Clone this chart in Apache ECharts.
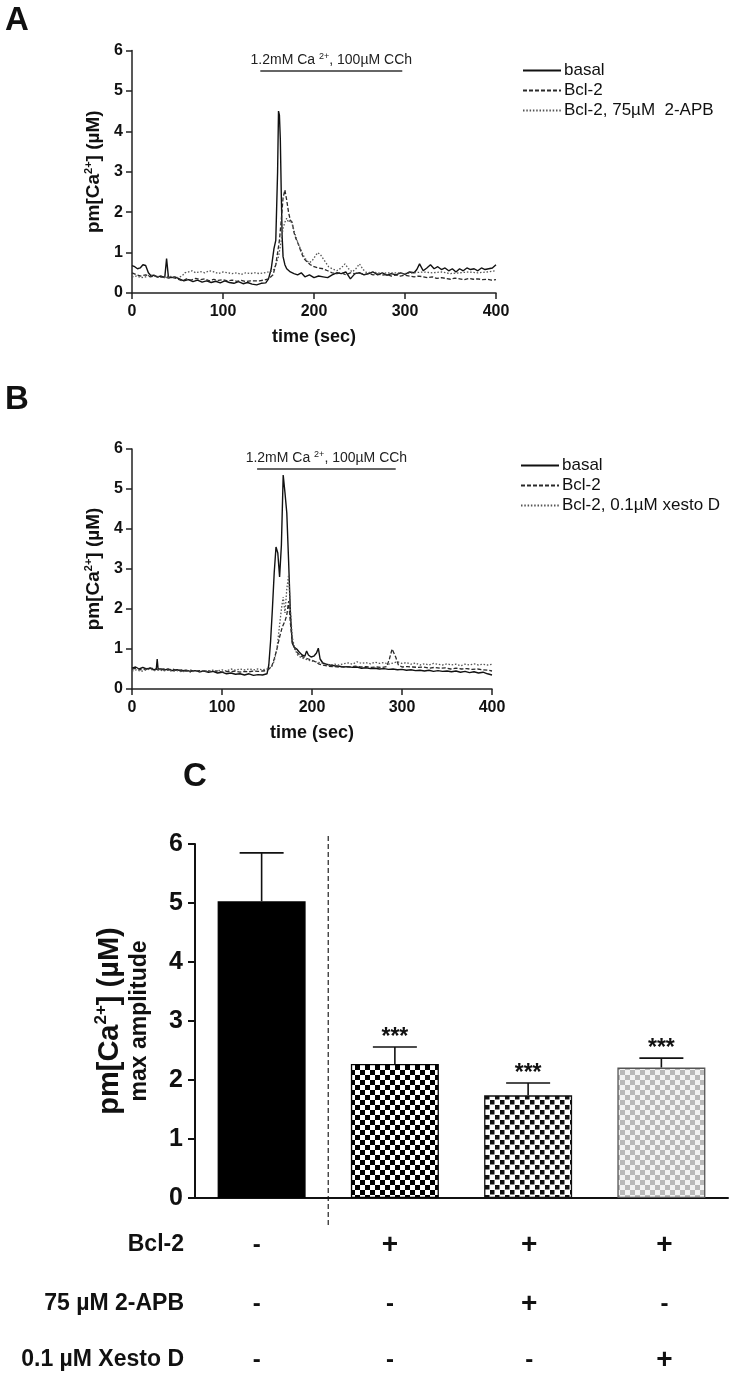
<!DOCTYPE html>
<html><head><meta charset="utf-8"><title>pm[Ca2+] traces and max amplitude</title>
<script src="https://cdn.jsdelivr.net/npm/echarts@6.0.0/dist/echarts.min.js"></script>
<style>html,body{margin:0;padding:0;background:#fff;}#chart{width:732px;height:1374px;}</style>
</head><body><div id="chart"></div>
<script>
// ---------------- DATA ----------------
// Panel A traces: [time (sec), pm[Ca2+] (µM)]
const traceA_basal = [[0,0.68],[3,0.65],[6,0.6],[9,0.62],[12,0.7],[15,0.68],[18,0.5],[21,0.42],[24,0.44],[28,0.4],[32,0.42],[36,0.38],[38,0.85],[40,0.4],[43,0.38],[47,0.4],[52,0.35],[57,0.3],[62,0.33],[67,0.28],[72,0.32],[77,0.27],[82,0.3],[87,0.26],[92,0.29],[97,0.25],[102,0.3],[107,0.26],[112,0.24],[117,0.28],[122,0.23],[127,0.26],[132,0.22],[137,0.2],[142,0.24],[147,0.25],[150,0.35],[153,0.6],[156,1.1],[158,1.3],[160,3.0],[161,4.5],[162,4.4],[163,3.8],[164,2.5],[165,1.4],[166,0.9],[168,0.7],[170,0.6],[174,0.52],[178,0.48],[182,0.45],[186,0.5],[190,0.4],[195,0.45],[200,0.38],[205,0.42],[210,0.4],[215,0.38],[220,0.45],[225,0.5],[230,0.48],[235,0.52],[240,0.35],[245,0.48],[250,0.5],[255,0.45],[260,0.48],[265,0.52],[270,0.45],[275,0.5],[280,0.44],[285,0.48],[290,0.45],[295,0.5],[300,0.46],[305,0.52],[310,0.5],[313,0.58],[316,0.72],[320,0.55],[324,0.62],[328,0.7],[332,0.6],[336,0.65],[340,0.58],[344,0.62],[348,0.55],[352,0.6],[356,0.52],[360,0.6],[364,0.55],[368,0.62],[372,0.58],[376,0.6],[380,0.55],[384,0.62],[388,0.58],[392,0.6],[396,0.62],[400,0.7]];
const traceA_bcl2 = [[0,0.5],[5,0.45],[10,0.42],[15,0.45],[20,0.4],[25,0.42],[30,0.38],[35,0.4],[40,0.37],[45,0.38],[50,0.35],[55,0.3],[60,0.35],[65,0.32],[70,0.36],[75,0.33],[80,0.35],[85,0.3],[90,0.34],[95,0.31],[100,0.33],[105,0.3],[110,0.32],[115,0.29],[120,0.31],[125,0.28],[130,0.3],[135,0.3],[140,0.3],[145,0.32],[150,0.35],[155,0.45],[158,0.7],[160,1.0],[162,1.3],[164,1.8],[166,2.35],[168,2.55],[170,2.3],[172,2.0],[174,1.8],[176,1.75],[178,1.5],[180,1.35],[183,1.2],[186,1.0],[189,0.85],[192,0.78],[196,0.7],[200,0.65],[205,0.62],[210,0.6],[215,0.55],[220,0.5],[225,0.48],[230,0.5],[235,0.45],[240,0.5],[245,0.48],[250,0.5],[255,0.46],[260,0.48],[265,0.45],[270,0.47],[275,0.44],[280,0.46],[285,0.42],[290,0.45],[295,0.42],[300,0.44],[305,0.42],[310,0.4],[315,0.42],[320,0.4],[325,0.38],[330,0.4],[335,0.36],[340,0.38],[345,0.36],[350,0.34],[355,0.37],[360,0.35],[365,0.33],[370,0.36],[375,0.34],[380,0.35],[385,0.33],[390,0.34],[395,0.32],[400,0.33]];
const traceA_apb = [[0,0.4],[5,0.42],[10,0.38],[15,0.4],[20,0.45],[25,0.42],[30,0.4],[35,0.38],[40,0.42],[45,0.4],[50,0.38],[55,0.42],[58,0.5],[62,0.52],[66,0.55],[70,0.5],[75,0.53],[80,0.5],[85,0.55],[90,0.52],[95,0.48],[100,0.52],[105,0.5],[110,0.48],[115,0.5],[120,0.46],[125,0.5],[130,0.48],[135,0.5],[140,0.48],[145,0.5],[150,0.52],[155,0.55],[158,0.7],[161,0.9],[164,1.3],[166,1.6],[168,1.75],[170,1.85],[172,1.75],[174,1.8],[176,1.7],[178,1.55],[180,1.4],[183,1.2],[186,1.05],[189,0.9],[192,0.8],[195,0.75],[198,0.8],[201,0.9],[204,1.0],[207,0.95],[210,0.85],[213,0.75],[216,0.65],[220,0.6],[225,0.55],[230,0.62],[234,0.72],[238,0.6],[242,0.52],[246,0.6],[250,0.72],[254,0.58],[258,0.5],[265,0.52],[270,0.5],[275,0.48],[280,0.5],[290,0.5],[300,0.48],[310,0.5],[320,0.52],[330,0.5],[340,0.52],[350,0.48],[360,0.5],[370,0.52],[380,0.5],[390,0.52],[400,0.55]];
// Panel B traces
const traceB_basal = [[0,0.52],[4,0.55],[8,0.5],[12,0.54],[16,0.5],[20,0.52],[24,0.48],[27,0.5],[28,0.75],[29,0.5],[32,0.5],[36,0.47],[40,0.5],[45,0.46],[50,0.48],[55,0.45],[60,0.47],[65,0.44],[70,0.46],[75,0.43],[80,0.45],[85,0.42],[90,0.44],[95,0.4],[100,0.42],[105,0.38],[110,0.4],[115,0.37],[120,0.38],[125,0.35],[130,0.38],[135,0.34],[140,0.36],[145,0.35],[150,0.38],[152,0.6],[154,1.2],[156,2.0],[158,2.9],[160,3.55],[162,3.4],[164,2.8],[166,3.6],[168,5.35],[170,4.9],[172,4.4],[174,3.2],[176,1.9],[178,1.15],[180,1.05],[183,1.0],[186,0.92],[189,0.85],[192,0.82],[194,0.95],[196,0.85],[199,0.8],[202,0.82],[205,0.9],[207,1.02],[209,0.75],[212,0.65],[216,0.62],[220,0.6],[225,0.58],[230,0.57],[235,0.55],[240,0.56],[245,0.54],[250,0.55],[255,0.52],[260,0.53],[265,0.51],[270,0.52],[275,0.5],[280,0.51],[285,0.49],[290,0.5],[295,0.48],[300,0.49],[305,0.47],[310,0.48],[315,0.46],[320,0.47],[325,0.45],[330,0.47],[335,0.44],[340,0.46],[345,0.44],[350,0.45],[355,0.43],[360,0.45],[365,0.42],[370,0.44],[375,0.41],[380,0.43],[385,0.4],[390,0.42],[395,0.38],[400,0.35]];
const traceB_bcl2 = [[0,0.5],[5,0.52],[10,0.48],[15,0.5],[20,0.53],[25,0.5],[30,0.48],[35,0.5],[40,0.47],[45,0.5],[50,0.46],[55,0.48],[60,0.45],[65,0.47],[70,0.44],[75,0.46],[80,0.44],[85,0.45],[90,0.43],[95,0.45],[100,0.42],[105,0.44],[110,0.43],[115,0.45],[120,0.42],[125,0.44],[130,0.43],[135,0.45],[140,0.44],[145,0.45],[150,0.46],[155,0.55],[158,0.75],[161,1.0],[164,1.3],[167,1.55],[170,1.7],[172,1.85],[174,2.2],[176,1.65],[178,1.2],[181,1.0],[184,0.9],[188,0.82],[192,0.78],[196,0.75],[200,0.72],[204,0.68],[208,0.62],[212,0.6],[218,0.57],[224,0.56],[230,0.55],[236,0.56],[242,0.55],[248,0.57],[254,0.55],[260,0.56],[266,0.54],[272,0.55],[278,0.54],[283,0.56],[286,0.75],[289,1.0],[291,1.05],[293,0.8],[296,0.6],[300,0.55],[306,0.56],[312,0.55],[318,0.54],[324,0.55],[330,0.52],[336,0.54],[342,0.52],[348,0.53],[354,0.5],[360,0.52],[366,0.5],[372,0.51],[378,0.49],[384,0.5],[390,0.48],[396,0.47],[400,0.45]];
const traceB_xesto = [[0,0.45],[5,0.48],[10,0.44],[15,0.47],[20,0.5],[25,0.46],[30,0.48],[35,0.45],[40,0.47],[45,0.44],[50,0.46],[55,0.43],[60,0.45],[65,0.42],[70,0.45],[75,0.43],[80,0.46],[85,0.44],[90,0.47],[95,0.45],[100,0.48],[105,0.45],[110,0.5],[115,0.47],[120,0.5],[125,0.48],[130,0.5],[135,0.48],[140,0.5],[145,0.48],[150,0.5],[155,0.55],[158,0.7],[161,1.0],[164,1.6],[166,2.0],[168,2.3],[170,1.9],[172,2.5],[174,2.85],[176,2.0],[178,1.3],[181,1.0],[184,0.85],[188,0.78],[192,0.75],[196,0.72],[200,0.7],[205,0.68],[210,0.65],[215,0.62],[220,0.6],[225,0.62],[230,0.6],[235,0.63],[240,0.65],[245,0.62],[250,0.68],[255,0.64],[260,0.66],[265,0.63],[270,0.67],[275,0.64],[280,0.66],[285,0.62],[290,0.65],[295,0.68],[300,0.64],[305,0.66],[310,0.62],[315,0.65],[320,0.6],[325,0.63],[330,0.6],[335,0.64],[340,0.62],[345,0.6],[350,0.63],[355,0.6],[360,0.62],[365,0.58],[370,0.62],[375,0.6],[380,0.63],[385,0.6],[390,0.62],[395,0.6],[400,0.62]];
const seriesNamesA = ['basal', 'Bcl-2', 'Bcl-2, 75µM  2-APB'];
const seriesNamesB = ['basal', 'Bcl-2', 'Bcl-2, 0.1µM xesto D'];
const timeRange = [0, 400];
const timeStep = 100;
const concRange = [0, 6];
const treatmentA = [141, 297];
const treatmentB = [139, 293];
const treatmentLevel = 5.5;
// Panel C bars
const barCategories = ['basal', 'Bcl-2', 'Bcl-2 + 2-APB', 'Bcl-2 + Xesto D'];
const barMeans = [5.03, 2.27, 1.74, 2.21];
const barErrors = [0.82, 0.29, 0.21, 0.16];
const barSignificance = ['', '***', '***', '***'];
const tableRowLabels = ['Bcl-2', '75 µM 2-APB', '0.1 µM Xesto D'];
const tableSigns = [['-', '+', '+', '+'], ['-', '-', '+', '-'], ['-', '-', '-', '+']];

// ---------------- STYLE ----------------
const FF = '"Liberation Sans", Arial, Helvetica, sans-serif';
const FN = '"Liberation Sans Narrow", "Arial Narrow", "Liberation Sans", sans-serif';
const lineStyles = [
  { color: '#111', width: 1.4, type: 'solid' },
  { color: '#2a2a2a', width: 1.3, type: [4, 2] },
  { color: '#555', width: 1.3, type: [1.5, 1.8] }
];
const signOffsets = [-5, -5, 1, 3];

function makePattern(kind) {
  const c = document.createElement('canvas');
  c.width = 10; c.height = 10;
  const g = c.getContext('2d');
  g.fillStyle = '#fff'; g.fillRect(0, 0, 10, 10);
  if (kind === 'check') { g.fillStyle = '#000'; g.fillRect(0, 0, 5, 5); g.fillRect(5, 5, 5, 5); }
  else if (kind === 'dots') { g.fillStyle = '#111'; g.fillRect(0, 0, 4.5, 4.5); g.fillRect(5, 5, 4.5, 4.5); }
  else if (kind === 'grey') { g.fillStyle = '#f2f2f2'; g.fillRect(0,0,10,10); g.fillStyle = '#b9b9b9'; g.fillRect(0, 0, 5, 5); g.fillRect(5, 5, 5, 5); }
  return { image: c, repeat: 'repeat' };
}
const barFills = [{ color: '#000', borderColor: '#000' }, { color: makePattern('check'), borderColor: '#000' }, { color: makePattern('dots'), borderColor: '#111' }, { color: makePattern('grey'), borderColor: '#555' }];

const chart = echarts.init(document.getElementById('chart'), null, { renderer: 'canvas', width: 732, height: 1374 });

function timeAxis(gridIndex) {
  return {
    type: 'value', gridIndex, min: timeRange[0], max: timeRange[1], interval: timeStep,
    name: 'time (sec)', nameLocation: 'middle', nameGap: 35,
    nameTextStyle: { fontFamily: FF, fontWeight: 'bold', fontSize: 18, color: '#111' },
    axisLine: { show: true, lineStyle: { color: '#222', width: 1.5 } },
    axisTick: { show: true, inside: false, length: 6, lineStyle: { color: '#222', width: 1.5 } },
    axisLabel: { fontFamily: FF, fontWeight: 'bold', fontSize: 16, color: '#111', margin: 11 },
    splitLine: { show: false }
  };
}
const yNameRich = {
  a: { fontFamily: FF, fontWeight: 'bold', fontSize: 19, color: '#111', lineHeight: 22 },
  s: { fontFamily: FF, fontWeight: 'bold', fontSize: 11, color: '#111', lineHeight: 22, verticalAlign: 'top', padding: [0, 0, 8, 0] }
};
function concAxis(gridIndex) {
  return {
    type: 'value', gridIndex, min: concRange[0], max: concRange[1], interval: 1,
    name: '{a|pm[Ca}{s|2+}{a|] (µM)}', nameLocation: 'middle', nameGap: 27, nameRotate: 90,
    nameTextStyle: { rich: yNameRich },
    axisLine: { show: true, lineStyle: { color: '#222', width: 1.5 } },
    axisTick: { show: true, inside: false, length: 6, lineStyle: { color: '#222', width: 1.5 } },
    axisLabel: { fontFamily: FF, fontWeight: 'bold', fontSize: 16, color: '#111', margin: 9 },
    splitLine: { show: false }
  };
}
function treatmentMark(range) {
  return {
    symbol: 'none', silent: true, animation: false,
    lineStyle: { color: '#333', width: 1.5, type: 'solid' },
    label: {
      show: true, position: 'middle', distance: 3,
      formatter: '{t|1.2mM Ca }{s|2+}{t|, 100µM CCh}',
      rich: {
        t: { fontFamily: FN, fontSize: 14, color: '#222', lineHeight: 16 },
        s: { fontFamily: FN, fontSize: 9, color: '#222', lineHeight: 16, verticalAlign: 'top', padding: [0, 0, 7, 0] }
      }
    },
    data: [[{ coord: [range[0], treatmentLevel] }, { coord: [range[1], treatmentLevel] }]]
  };
}
function trace(name, data, idx, style, mark) {
  const s = {
    type: 'line', name, data, xAxisIndex: idx, yAxisIndex: idx,
    showSymbol: false, symbol: 'none', animation: false, smooth: false,
    lineStyle: style, itemStyle: { color: style.color }
  };
  if (mark) s.markLine = mark;
  return s;
}
function legendAt(names, left, top) {
  return { data: names, left, top, orient: 'vertical', itemWidth: 38, itemHeight: 12, itemGap: 3, selectedMode: false,
    itemStyle: { opacity: 0 },
    textStyle: { fontFamily: FF, fontSize: 17, color: '#111', padding: [0, 0, 0, -2] } };
}

const option = {
  animation: false,
  backgroundColor: '#fff',
  textStyle: { fontFamily: FF },
  grid: [
    { left: 132, top: 50.5, width: 364, height: 242.5 },
    { left: 132, top: 449, width: 360, height: 240 },
    { left: 195, top: 844, width: 533, height: 354 }
  ],
  legend: [ legendAt(seriesNamesA, 517, 57), legendAt(seriesNamesB, 515, 452) ],
  xAxis: [
    timeAxis(0), timeAxis(1),
    { type: 'category', gridIndex: 2, data: barCategories,
      axisLine: { show: true, lineStyle: { color: '#111', width: 2 } },
      axisTick: { show: false }, axisLabel: { show: false }, splitLine: { show: false } }
  ],
  yAxis: [
    concAxis(0), concAxis(1),
    { type: 'value', gridIndex: 2, min: 0, max: 6, interval: 1,
      name: '{a|pm[Ca}{s|2+}{a|] (µM)}\n{b|max amplitude}', nameLocation: 'middle', nameRotate: 90, nameGap: 43,
      nameTextStyle: { rich: {
        a: { fontFamily: FF, fontWeight: 'bold', fontSize: 29, color: '#111', lineHeight: 34 },
        s: { fontFamily: FF, fontWeight: 'bold', fontSize: 17, color: '#111', lineHeight: 34, verticalAlign: 'top', padding: [0, 0, 12, 0] },
        b: { fontFamily: FF, fontWeight: 'bold', fontSize: 23, color: '#111', lineHeight: 25 }
      } },
      axisLine: { show: true, lineStyle: { color: '#111', width: 2 } },
      axisTick: { show: true, inside: false, length: 7, lineStyle: { color: '#111', width: 2 } },
      axisLabel: { fontFamily: FF, fontWeight: 'bold', fontSize: 25, color: '#111', margin: 12 },
      splitLine: { show: false } }
  ],
  series: [
    trace(seriesNamesA[0], traceA_basal, 0, lineStyles[0], treatmentMark(treatmentA)),
    trace(seriesNamesA[1], traceA_bcl2, 0, lineStyles[1]),
    trace(seriesNamesA[2], traceA_apb, 0, lineStyles[2]),
    trace(seriesNamesB[0], traceB_basal, 1, lineStyles[0], treatmentMark(treatmentB)),
    trace(seriesNamesB[1], traceB_bcl2, 1, lineStyles[1]),
    trace(seriesNamesB[2], traceB_xesto, 1, lineStyles[2]),
    { type: 'bar', xAxisIndex: 2, yAxisIndex: 2, barWidth: 88, animation: false,
      data: barMeans.map((v, i) => ({ value: v, itemStyle: { color: barFills[i].color, borderColor: barFills[i].borderColor, borderWidth: 1.3 } })) },
    { type: 'custom', xAxisIndex: 2, yAxisIndex: 2, animation: false, silent: true,
      data: barMeans.map((m, i) => [i, m, barErrors[i]]),
      encode: { x: 0, y: 1 },
      renderItem: function (params, api) {
        const i = params.dataIndex;
        const p0 = api.coord([api.value(0), api.value(1)]);
        const p1 = api.coord([api.value(0), api.value(1) + api.value(2)]);
        const hw = 22;
        const children = [
          { type: 'line', shape: { x1: p0[0], y1: p0[1], x2: p1[0], y2: p1[1] }, style: { stroke: '#111', lineWidth: 1.6 } },
          { type: 'line', shape: { x1: p1[0] - hw, y1: p1[1], x2: p1[0] + hw, y2: p1[1] }, style: { stroke: '#111', lineWidth: 1.6 } }
        ];
        if (barSignificance[i]) {
          children.push({ type: 'text', style: { text: barSignificance[i], x: p1[0], y: p1[1] + 2, align: 'center', verticalAlign: 'bottom',
            fontFamily: FF, fontWeight: 'bold', fontSize: 23, fill: '#111' } });
        }
        return { type: 'group', children };
      } }
  ]
};
chart.setOption(option);

// Panel letters, divider and condition table (positions derived from the axes)
const xPix = barCategories.map((c, i) => chart.convertToPixel({ xAxisIndex: 2 }, i));
const y0 = chart.convertToPixel({ yAxisIndex: 2 }, 0);
const y6 = chart.convertToPixel({ yAxisIndex: 2 }, 6);
const divX = (xPix[0] + xPix[1]) / 2;
const rowY = [y0 + 47, y0 + 106, y0 + 162];
const graphics = [
  { type: 'text', left: 5, top: 4, style: { text: 'A', fontFamily: FF, fontWeight: 'bold', fontSize: 33, fill: '#111' } },
  { type: 'text', left: 5, top: 383, style: { text: 'B', fontFamily: FF, fontWeight: 'bold', fontSize: 33, fill: '#111' } },
  { type: 'text', left: 183, top: 760, style: { text: 'C', fontFamily: FF, fontWeight: 'bold', fontSize: 33, fill: '#111' } },
  { type: 'line', shape: { x1: divX, y1: y6 - 8, x2: divX, y2: y0 + 30 }, style: { stroke: '#333', lineWidth: 1.3, lineDash: [5, 3] } }
];
tableRowLabels.forEach((lab, r) => {
  graphics.push({ type: 'text', style: { text: lab, x: 184, y: rowY[r], align: 'right', verticalAlign: 'middle',
    fontFamily: FF, fontWeight: 'bold', fontSize: 23, fill: '#111' } });
  tableSigns[r].forEach((s, i) => {
    graphics.push({ type: 'text', style: { text: s, x: xPix[i] + signOffsets[i], y: rowY[r], align: 'center', verticalAlign: 'middle',
      fontFamily: FF, fontWeight: 'bold', fontSize: s === '-' ? 24 : 28, fill: '#111' } });
  });
});
chart.setOption({ graphic: graphics });
</script>
</body></html>
